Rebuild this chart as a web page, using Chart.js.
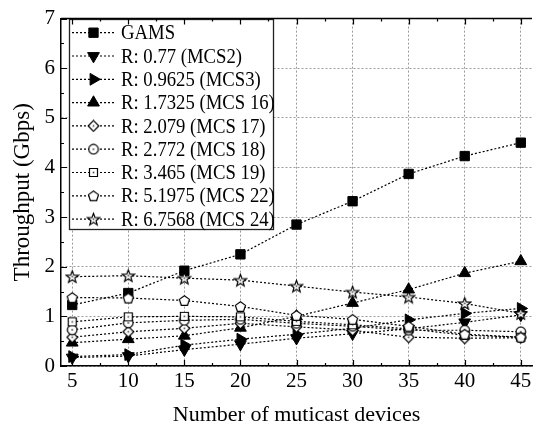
<!DOCTYPE html>
<html><head><meta charset="utf-8">
<script src="https://cdn.jsdelivr.net/npm/chart.js@4/dist/chart.umd.min.js"></script>
<style>html,body{margin:0;padding:0;overflow:hidden;background:#fff}</style>
</head><body>
<canvas id="c" width="540" height="430"></canvas>
<script>
// ---- data ----
const devices = [5, 10, 15, 20, 25, 30, 35, 40, 45];
const yTicks = [0, 1, 2, 3, 4, 5, 6, 7];
const seriesNames = ['GAMS', 'R: 0.77 (MCS2)', 'R: 0.9625 (MCS3)', 'R: 1.7325 (MCS 16)',
  'R: 2.079 (MCS 17)', 'R: 2.772 (MCS 18)', 'R: 3.465 (MCS 19)', 'R: 5.1975 (MCS 22)', 'R: 6.7568 (MCS 24)'];
const gams  = [1.23, 1.47, 1.92, 2.25, 2.85, 3.32, 3.87, 4.23, 4.50];
const mcs2  = [0.17, 0.20, 0.33, 0.44, 0.56, 0.65, 0.75, 0.88, 1.03];
const mcs3  = [0.19, 0.23, 0.42, 0.54, 0.64, 0.76, 0.93, 1.06, 1.16];
const mcs16 = [0.47, 0.54, 0.61, 0.77, 1.00, 1.27, 1.54, 1.87, 2.11];
const mcs17 = [0.58, 0.69, 0.76, 0.86, 0.79, 0.72, 0.58, 0.56, 0.57];
const mcs18 = [0.73, 0.87, 0.92, 0.94, 0.86, 0.80, 0.72, 0.72, 0.69];
const mcs19 = [0.89, 0.99, 1.00, 0.99, 0.90, 0.83, 0.75, 0.62, 0.58];
const mcs22 = [1.38, 1.37, 1.32, 1.20, 1.02, 0.94, 0.80, 0.64, 0.58];
const mcs24 = [1.80, 1.82, 1.77, 1.73, 1.61, 1.49, 1.39, 1.26, 1.06];
const seriesValues = [gams, mcs2, mcs3, mcs16, mcs17, mcs18, mcs19, mcs22, mcs24];

// ---- marker images ----
function openMarker(kind, size) {
  const c = document.createElement('canvas');
  c.width = c.height = size;
  const g = c.getContext('2d');
  g.translate(size / 2, size / 2);
  g.lineWidth = 1.2; g.strokeStyle = '#000'; g.fillStyle = '#fff';
  g.beginPath();
  const h = size / 2 - 1.2;
  if (kind === 'circle') { g.arc(0, 0, h, 0, Math.PI * 2); }
  else if (kind === 'square') { g.rect(-h + 0.3, -h + 0.3, 2 * h - 0.6, 2 * h - 0.6); }
  else if (kind === 'diamond') { g.moveTo(0, -h); g.lineTo(h, 0); g.lineTo(0, h); g.lineTo(-h, 0); g.closePath(); }
  else if (kind === 'pentagon') {
    for (let k = 0; k < 5; k++) { const a = -Math.PI / 2 + k * 2 * Math.PI / 5; const px = Math.cos(a) * h, py = Math.sin(a) * h + 0.5; k ? g.lineTo(px, py) : g.moveTo(px, py); }
    g.closePath();
  } else if (kind === 'star') {
    for (let k = 0; k < 10; k++) { const a = -Math.PI / 2 + k * Math.PI / 5; const r = k % 2 ? h * 0.42 : h; const px = Math.cos(a) * r, py = Math.sin(a) * r + 0.6; k ? g.lineTo(px, py) : g.moveTo(px, py); }
    g.closePath();
  }
  g.fill(); g.stroke();
  if (kind !== 'pentagon') { g.fillStyle = '#444'; g.fillRect(-0.8, -0.8, 1.6, 1.6); }
  return c;
}
const markers = [
  { style: 'rect', r: 6.6, rot: 0, fill: '#000' },
  { style: 'triangle', r: 6.8, rot: 180, fill: '#000' },
  { style: 'triangle', r: 6.8, rot: 90, fill: '#000' },
  { style: 'triangle', r: 6.8, rot: 0, fill: '#000' },
  { style: openMarker('diamond', 13), r: 6, rot: 0, fill: '#fff' },
  { style: openMarker('circle', 12), r: 6, rot: 0, fill: '#fff' },
  { style: openMarker('square', 11), r: 5, rot: 0, fill: '#fff' },
  { style: openMarker('pentagon', 13), r: 6, rot: 0, fill: '#fff' },
  { style: openMarker('star', 15), r: 7, rot: 0, fill: '#fff' }
];

const datasets = seriesNames.map((name, i) => ({
  label: name,
  data: devices.map((d, j) => ({ x: d, y: seriesValues[i][j] })),
  borderColor: '#000', borderWidth: 1.2, borderDash: [2, 2],
  pointStyle: markers[i].style, pointRadius: markers[i].r, pointRotation: markers[i].rot,
  pointBackgroundColor: markers[i].fill, pointBorderColor: '#000', pointBorderWidth: 1,
  pointHoverRadius: markers[i].r, fill: false, tension: 0,
  order: seriesNames.length - i
}));

const FONT = "'Liberation Serif', 'Times New Roman', serif";
Chart.defaults.font.family = FONT;
Chart.defaults.color = '#000';

const boxLegend = {
  id: 'boxLegend',
  afterDatasetsDraw(chart) {
    const ctx = chart.ctx;
    ctx.save();
    const bx = 69, by = 19, bw = 204, bh = 210;
    ctx.fillStyle = '#fff'; ctx.fillRect(bx, by, bw, bh);
    ctx.strokeStyle = '#222'; ctx.lineWidth = 1.3; ctx.strokeRect(bx + 0.5, by + 0.5, bw, bh);
    chart.data.datasets.forEach((ds, i) => {
      const cy = 32.7 + 23.3 * i;
      ctx.setLineDash([2, 2]); ctx.lineWidth = 1.2; ctx.strokeStyle = '#000';
      ctx.beginPath(); ctx.moveTo(72, cy); ctx.lineTo(115, cy); ctx.stroke();
      ctx.setLineDash([]);
      ctx.fillStyle = ds.pointBackgroundColor; ctx.strokeStyle = '#000'; ctx.lineWidth = 1;
      Chart.helpers.drawPoint(ctx, { pointStyle: ds.pointStyle, radius: ds.pointRadius, rotation: ds.pointRotation, borderWidth: 1 }, 93.5, cy);
      ctx.save();
      ctx.translate(121, cy + 1);
      ctx.scale(0.87, 1);
      ctx.font = "21.5px " + FONT; ctx.fillStyle = '#000'; ctx.textBaseline = 'middle'; ctx.textAlign = 'left';
      ctx.fillText(ds.label, 0, 0);
      ctx.restore();
    });
    ctx.restore();
  }
};

const frameTicks = {
  id: 'frameTicks',
  afterDraw(chart) {
    const ctx = chart.ctx, a = chart.chartArea, xs = chart.scales.x, ys = chart.scales.y;
    ctx.save();
    ctx.strokeStyle = '#000'; ctx.lineWidth = 1.5;
    ctx.beginPath(); ctx.moveTo(a.left, a.top); ctx.lineTo(a.right, a.top); ctx.stroke();
    ctx.lineWidth = 1.2;
    ctx.beginPath();
    devices.forEach(v => {
      const p = Math.round(xs.getPixelForValue(v)) + 0.5;
      ctx.moveTo(p, a.bottom); ctx.lineTo(p, a.bottom - 6);
      ctx.moveTo(p, a.top); ctx.lineTo(p, a.top + 6);
      const m = Math.round(xs.getPixelForValue(v + 2.5)) + 0.5;
      if (v + 2.5 < xs.max) { ctx.moveTo(m, a.bottom); ctx.lineTo(m, a.bottom - 3); ctx.moveTo(m, a.top); ctx.lineTo(m, a.top + 3); }
    });
    yTicks.forEach(v => {
      const p = Math.round(ys.getPixelForValue(v)) + 0.5;
      ctx.moveTo(a.left, p); ctx.lineTo(a.left + 6, p);
      if (v + 0.5 < ys.max) { const m = Math.round(ys.getPixelForValue(v + 0.5)) + 0.5; ctx.moveTo(a.left, m); ctx.lineTo(a.left + 3, m); }
    });
    ctx.stroke();
    ctx.restore();
  }
};

new Chart(document.getElementById('c'), {
  type: 'line',
  data: { datasets },
  options: {
    responsive: false, animation: false, devicePixelRatio: 1,
    layout: { padding: { top: 15, right: 3, left: 0, bottom: 0 } },
    plugins: { legend: { display: false }, tooltip: { enabled: false } },
    scales: {
      x: {
        type: 'linear', min: 4, max: 46,
        afterBuildTicks: s => { s.ticks = devices.map(v => ({ value: v })); },
        afterFit: s => { s.height = 64; },
        ticks: { font: { size: 21 }, padding: 3, color: '#000', maxRotation: 0 },
        grid: { color: '#9a9a9a', lineWidth: 1, drawTicks: false },
        border: { display: true, color: '#000', width: 1.5, dash: [2, 2] },
        title: { display: true, text: 'Number of muticast devices', font: { size: 22 }, color: '#000', padding: { top: 0, bottom: 2 } }
      },
      y: {
        min: 0, max: 7,
        afterBuildTicks: s => { s.ticks = yTicks.map(v => ({ value: v })); },
        afterFit: s => { s.width = 61; },
        ticks: { font: { size: 21 }, padding: 6, color: '#000' },
        grid: { color: '#9a9a9a', lineWidth: 1, drawTicks: false },
        border: { display: true, color: '#000', width: 1.5, dash: [2, 2] },
        title: { display: true, text: 'Throughput (Gbps)', font: { size: 23 }, color: '#000', padding: { top: 9, bottom: 0 } }
      }
    }
  },
  plugins: [boxLegend, frameTicks]
});
</script>
</body></html>
